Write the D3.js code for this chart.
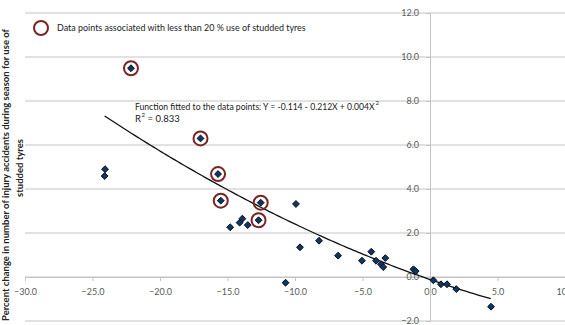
<!DOCTYPE html>
<html>
<head>
<meta charset="utf-8">
<script src="https://cdn.jsdelivr.net/npm/d3@7"></script>
<style>
  html, body { margin: 0; padding: 0; background: #fff; }
  svg { display: block; font-family: Lato, "Open Sans", sans-serif; }
</style>
</head>
<body>
<svg id="chart" width="565" height="325"></svg>
<script>
// ---- data ----
const pointX = [-22.15, -24.07, -24.10, -17.0, -15.7, -15.5, -12.54, -12.7, -9.93, -14.8,
                -14.1, -13.9, -13.5, -9.63, -10.7, -8.22, -6.81, -5.04, -4.35, -4.0,
                -3.63, -3.46, -3.31, -1.23, -1.06, 0.25, 0.81, 1.26, 1.95, 4.52];
const pointY = [9.49, 4.90, 4.59, 6.30, 4.68, 3.47, 3.38, 2.58, 3.32, 2.26,
                2.47, 2.65, 2.36, 1.35, -0.26, 1.65, 0.97, 0.74, 1.15, 0.74,
                0.58, 0.45, 0.86, 0.35, 0.27, -0.15, -0.33, -0.33, -0.55, -1.35];
// points associated with < 20 % studded tyres (circled)
const circledX = [-22.15, -17.0, -15.7, -15.5, -12.54, -12.7];
const circledY = [9.49, 6.30, 4.68, 3.47, 3.38, 2.58];
// fitted function Y = a + bX + cX^2 and its x-range
const fitCoef = [-0.114, -0.212, 0.004];
const fitRange = [-24.1, 4.6];
const xTicks = [-30, -25, -20, -15, -10, -5, 0, 5, 10];
const yTicks = [-2, 0, 2, 4, 6, 8, 10, 12];
const legendLabel = "Data points associated with less than 20 % use of studded tyres";
const fitLabel = "Function fitted to the data points: Y = -0.114 - 0.212X + 0.004X";
const yTitle1 = "Percent change in number of injury accidents during season for use of";
const yTitle2 = "studded tyres";

// ---- drawing ----
const svg = d3.select("#chart");
const x = d3.scaleLinear().domain([-30, 10]).range([25, 565]);
const y = d3.scaleLinear().domain([-2, 12]).range([321, 13]);
const gridColor = "#c4c4c4";
const labelColor = "#595959";

// fit a text to a given width by choosing its font size
function fitWidth(sel, width) {
  sel.attr("font-size", 10);
  const len = sel.node().getComputedTextLength();
  sel.attr("font-size", (10 * width / len).toFixed(2));
  return sel.node().getComputedTextLength();
}

// horizontal gridlines
svg.append("g").selectAll("line").data(yTicks).join("line")
  .attr("x1", x(-30)).attr("x2", x(10))
  .attr("y1", d => y(d)).attr("y2", d => y(d))
  .attr("stroke", gridColor).attr("stroke-width", 1);

// x axis at y = 0
const xAxis = svg.append("g").attr("transform", `translate(0,${y(0)})`)
  .call(d3.axisBottom(x).tickValues(xTicks).tickFormat(d3.format(".1f")).tickSize(4).tickPadding(8));
xAxis.select(".domain").attr("stroke", gridColor);
xAxis.selectAll(".tick line").attr("stroke", gridColor);
xAxis.selectAll("text").attr("fill", labelColor).style("font-size", "9px").style("font-family", "Lato, sans-serif");

// y axis at x = 0
const yAxis = svg.append("g").attr("transform", `translate(${x(0)},0)`)
  .call(d3.axisLeft(y).tickValues(yTicks).tickFormat(d3.format(".1f")).tickSize(4).tickPadding(7));
yAxis.select(".domain").attr("stroke", gridColor);
yAxis.selectAll(".tick line").attr("stroke", gridColor);
yAxis.selectAll("text").attr("fill", labelColor).style("font-size", "9px").style("font-family", "Lato, sans-serif");

// fitted curve
const fitFn = v => fitCoef[0] + fitCoef[1] * v + fitCoef[2] * v * v;
const fitPts = d3.range(fitRange[0], fitRange[1] + 0.001, 0.2).map(v => [v, fitFn(v)]);
svg.append("path")
  .attr("d", d3.line().x(d => x(d[0])).y(d => y(d[1]))(fitPts))
  .attr("fill", "none").attr("stroke", "#111").attr("stroke-width", 1.3);

// diamond points
const diamond = d3.symbol().type(d3.symbolDiamond2).size(30);
svg.append("g").selectAll("path").data(pointX.map((v, i) => [v, pointY[i]])).join("path")
  .attr("d", diamond)
  .attr("transform", d => `translate(${x(d[0])},${y(d[1])})`)
  .attr("fill", "#123461").attr("stroke", "#050f1f").attr("stroke-width", 1);

// circles
const circColor = "#7c2424";
svg.append("g").selectAll("circle").data(circledX.map((v, i) => [v, circledY[i]])).join("circle")
  .attr("cx", d => x(d[0])).attr("cy", d => y(d[1])).attr("r", 7)
  .attr("fill", "none").attr("stroke", circColor).attr("stroke-width", 2);

// legend
svg.append("circle").attr("cx", 41).attr("cy", 28).attr("r", 7)
  .attr("fill", "none").attr("stroke", circColor).attr("stroke-width", 2);
const lg = svg.append("text").attr("x", 57).attr("y", 31).attr("fill", "#222").text(legendLabel);
fitWidth(lg, 249);

// fitted function annotation
const ft = svg.append("text").attr("x", 135).attr("y", 110).attr("fill", "#222").text(fitLabel);
const ftLen = fitWidth(ft, 240);
svg.append("text").attr("x", 135 + ftLen + 1).attr("y", 105).attr("font-size", 6).attr("fill", "#222").text("2");

svg.append("text").attr("x", 135).attr("y", 122).attr("font-size", 9.5).attr("fill", "#222").text("R");
svg.append("text").attr("x", 141.5).attr("y", 117).attr("font-size", 6).attr("fill", "#222").text("2");
svg.append("text").attr("x", 147.5).attr("y", 122).attr("font-size", 9.5).attr("fill", "#222").text("= 0.833");

// y-axis title (two lines, rotated)
const yt = svg.append("g").attr("transform", "translate(0,175) rotate(-90)");
const t1 = yt.append("text").attr("x", 0).attr("y", 9).attr("text-anchor", "middle")
  .attr("font-weight", "bold").attr("fill", "#222").text(yTitle1);
fitWidth(t1, 292);
yt.append("text").attr("x", 7).attr("y", 23).attr("text-anchor", "middle")
  .attr("font-size", t1.attr("font-size")).attr("font-weight", "bold").attr("fill", "#222")
  .text(yTitle2);
</script>
</body>
</html>
